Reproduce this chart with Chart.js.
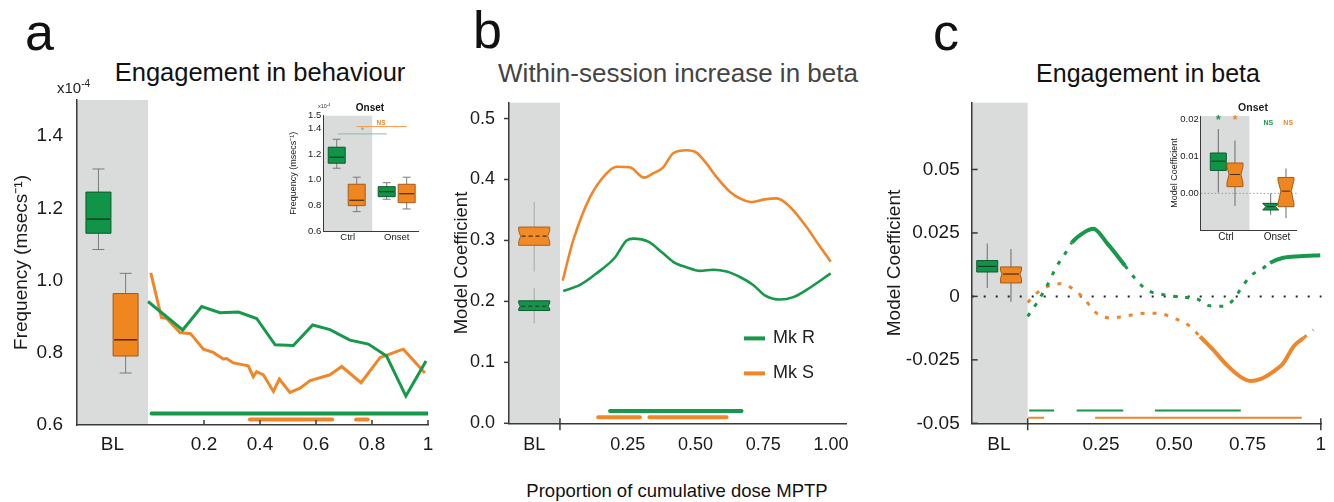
<!DOCTYPE html>
<html><head><meta charset="utf-8">
<script src="https://cdn.jsdelivr.net/npm/chart.js@4.4.1/dist/chart.umd.min.js"></script>
<style>
html,body{margin:0;padding:0;background:#fff;}
body{width:1334px;height:502px;position:relative;overflow:hidden;font-family:"Liberation Sans",Arial,Helvetica,sans-serif;color:#111;}
canvas{position:absolute;}
.t{position:absolute;white-space:nowrap;line-height:1;}
.ctr{transform:translateX(-50%);}
</style></head><body>
<canvas id="pa" width="440" height="375" style="left:0;top:90px"></canvas>
<canvas id="pb" width="420" height="375" style="left:440px;top:90px"></canvas>
<canvas id="pc" width="454" height="375" style="left:880px;top:90px"></canvas>
<canvas id="ia" width="145" height="150" style="left:280px;top:100px"></canvas>
<canvas id="ic" width="140" height="150" style="left:1160px;top:100px"></canvas>

<div class="t" style="left:25px;top:6px;font-size:52px">a</div>
<div class="t" style="left:473px;top:4px;font-size:52px">b</div>
<div class="t" style="left:933px;top:6px;font-size:52px">c</div>
<div class="t ctr" style="left:260px;top:60px;font-size:25.5px">Engagement in behaviour</div>
<div class="t ctr" style="left:678px;top:60px;font-size:26px;color:#444">Within-session increase in beta</div>
<div class="t ctr" style="left:1148px;top:61px;font-size:25px">Engagement in beta</div>
<div class="t" style="left:57px;top:80px;font-size:15px;color:#222">x10<span style="font-size:10px;position:relative;top:-6px">-4</span></div>
<div class="t" style="left:318px;top:104px;font-size:5.5px;color:#333">x10<span style="font-size:4px;position:relative;top:-2px">-4</span></div>
<div class="t ctr" style="left:370px;top:103px;font-size:10px;font-weight:bold">Onset</div>
<div class="t ctr" style="left:1253px;top:101.5px;font-size:10.5px;font-weight:bold;color:#222">Onset</div>
<div class="t ctr" style="left:677px;top:482px;font-size:18.5px">Proportion of cumulative dose MPTP</div>

<script>
// ===================== DATA =====================
// Panel a: engagement in behaviour (x10^-4 msecs^-1)
const aGreenX = [0, 0.124, 0.192, 0.257, 0.323, 0.388, 0.454, 0.519, 0.588, 0.65, 0.721, 0.787, 0.852, 0.921, 0.993];
const aGreenY = [0.942, 0.863, 0.928, 0.911, 0.913, 0.895, 0.822, 0.820, 0.877, 0.864, 0.835, 0.824, 0.791, 0.680, 0.777];
const aOrangeX = [0.010, 0.048, 0.067, 0.114, 0.152, 0.198, 0.233, 0.269, 0.281, 0.305, 0.358, 0.376, 0.388, 0.412, 0.448, 0.469, 0.507, 0.543, 0.579, 0.650, 0.692, 0.761, 0.829, 0.912, 0.989];
const aOrangeY = [1.021, 0.898, 0.895, 0.856, 0.853, 0.810, 0.801, 0.783, 0.784, 0.772, 0.764, 0.734, 0.748, 0.739, 0.693, 0.727, 0.690, 0.702, 0.723, 0.739, 0.762, 0.717, 0.787, 0.810, 0.744];
const aSigGreen = [[0.013, 1.0]];
const aSigGreenLevel = 0.632;
const aSigOrange = [[0.364, 0.658], [0.743, 0.785]];
const aSigOrangeLevel = 0.615;
// box stats: [low whisker, q1, median, q3, high whisker]
const aBLGreen = [1.086, 1.131, 1.170, 1.245, 1.309];
const aBLOrange = [0.744, 0.791, 0.836, 0.964, 1.020];
const aTickLabelsX = ['BL', '0.2', '0.4', '0.6', '0.8', '1'];
const aTickValsY = [0.6, 0.8, 1.0, 1.2, 1.4];
const aTickLabelsY = ['0.6', '0.8', '1.0', '1.2', '1.4'];

// Inset a
const iaCtrlGreen = [1.090, 1.129, 1.176, 1.254, 1.316];
const iaCtrlOrange = [0.751, 0.798, 0.840, 0.965, 1.020];
const iaOnsetGreen = [0.848, 0.868, 0.907, 0.946, 0.977];
const iaOnsetOrange = [0.772, 0.821, 0.891, 0.965, 1.020];
const iaCategories = ['Ctrl', 'Onset'];
const iaTickValsY = [0.6, 0.8, 1.0, 1.2, 1.4, 1.5];
const iaTickLabelsY = ['0.6', '0.8', '1.0', '1.2', '1.4', '1.5'];
const iaSigGreen = [-0.204, 0.796], iaSigGreenLevel = 1.358, iaSigGreenText = '*';
const iaSigOrange = [0.184, 1.204], iaSigOrangeLevel = 1.415, iaSigOrangeText = 'NS';

// Panel b: within-session increase in beta
const bOrangeX = [0.010, 0.049, 0.111, 0.172, 0.209, 0.258, 0.310, 0.344, 0.381, 0.418, 0.467, 0.504, 0.541, 0.578, 0.627, 0.664, 0.707, 0.750, 0.800, 0.849, 0.910, 0.947, 0.999];
const bOrangeY = [0.234, 0.300, 0.371, 0.410, 0.421, 0.420, 0.403, 0.410, 0.420, 0.443, 0.448, 0.444, 0.426, 0.404, 0.380, 0.369, 0.363, 0.367, 0.369, 0.355, 0.322, 0.298, 0.265];
const bGreenX = [0.012, 0.074, 0.135, 0.203, 0.246, 0.271, 0.326, 0.375, 0.418, 0.467, 0.517, 0.566, 0.615, 0.664, 0.713, 0.756, 0.812, 0.861, 0.910, 0.999];
const bGreenY = [0.217, 0.227, 0.246, 0.272, 0.300, 0.303, 0.298, 0.281, 0.265, 0.256, 0.250, 0.252, 0.249, 0.240, 0.227, 0.210, 0.203, 0.207, 0.219, 0.246];
const bSigGreen = [[0.185, 0.670]];
const bSigGreenLevel = 0.020;
const bSigOrange = [[0.141, 0.295], [0.330, 0.615]];
const bSigOrangeLevel = 0.010;
const bBLGreen = [0.164, 0.185, 0.192, 0.201, 0.222];
const bBLOrange = [0.249, 0.292, 0.307, 0.322, 0.363];
const bTickLabelsX = ['BL', '0.25', '0.50', '0.75', '1.00'];
const bTickValsY = [0, 0.1, 0.2, 0.3, 0.4, 0.5];
const bTickLabelsY = ['0.0', '0.1', '0.2', '0.3', '0.4', '0.5'];
const seriesNames = ['Mk R', 'Mk S'];

// Panel c: engagement in beta (1 = significant stretch, drawn solid)
const cGreenX = [0, 0.031, 0.065, 0.099, 0.133, 0.15, 0.19, 0.224, 0.27, 0.332, 0.36, 0.406, 0.463, 0.52, 0.577, 0.622, 0.668, 0.702, 0.725, 0.759, 0.804, 0.827, 0.872, 0.929, 0.998];
const cGreenY = [-0.0079, -0.0026, 0.0040, 0.0118, 0.0178, 0.0211, 0.0250, 0.0266, 0.0211, 0.0121, 0.0079, 0.0026, 0.0007, -0.0003, -0.0010, -0.0037, -0.0039, -0.0013, 0.0026, 0.0079, 0.0112, 0.0132, 0.0152, 0.0158, 0.0162];
const cGreenSig = [0,0,0,0,0,1,1,1,1,1,0,0,0,0,0,0,0,0,0,0,0,1,1,1,1];
const cOrangeX = [0, 0.031, 0.070, 0.110, 0.150, 0.190, 0.235, 0.281, 0.326, 0.383, 0.440, 0.497, 0.554, 0.588, 0.633, 0.679, 0.725, 0.759, 0.793, 0.838, 0.872, 0.907, 0.941, 0.975];
const cOrangeY = [-0.0024, 0.0013, 0.0040, 0.0050, 0.0033, -0.0006, -0.0066, -0.0085, -0.0079, -0.0068, -0.0066, -0.0085, -0.0118, -0.0158, -0.0211, -0.0270, -0.0316, -0.0333, -0.0326, -0.0296, -0.0263, -0.0197, -0.0164, -0.0132];
const cOrangeSig = [0,0,0,0,0,0,0,0,0,0,0,0,0,1,1,1,1,1,1,1,1,1,1,0];
const cSigGreen = [[0.005, 0.090], [0.167, 0.326], [0.434, 0.727]];
const cSigGreenLevel = -0.0450;
const cSigOrange = [[0.002, 0.056], [0.230, 0.935]];
const cSigOrangeLevel = -0.0478;
const cBLGreen = [0.0033, 0.0096, 0.0118, 0.0141, 0.0208];
const cBLOrange = [-0.0022, 0.0053, 0.0088, 0.0116, 0.0187];
const cTickLabelsX = ['BL', '0.25', '0.50', '0.75', '1'];
const cTickValsY = [-0.05, -0.025, 0, 0.025, 0.05];
const cTickLabelsY = ['-0.05', '-0.025', '0', '0.025', '0.05'];

// Inset c
const icCtrlGreen = [0.0002, 0.0062, 0.0087, 0.0109, 0.0174];
const icCtrlOrange = [-0.0034, 0.0018, 0.0051, 0.0082, 0.0143];
const icOnsetGreen = [-0.0058, -0.0045, -0.0036, -0.0027, 0.0000];
const icOnsetOrange = [-0.0067, -0.0036, 0.0006, 0.0043, 0.0067];
const icCategories = ['Ctrl', 'Onset'];
const icTickValsY = [0, 0.01, 0.02];
const icTickLabelsY = ['0.00', '0.01', '0.02'];
const icSigText = ['*', '*', 'NS', 'NS'];

// ===================== STYLE / HELPERS =====================
const GREEN = '#17984a', ORANGE = '#f0862a', SHADE = '#dadbdb', AXIS = '#3a3a3a', TXT = '#1a1a1a';
const GBOX = {fill: '#109548', stroke: '#0b5a2e', med: '#173a24'};
const OBOX = {fill: '#f0861f', stroke: '#a25c1c', med: '#4a2c10'};
Chart.defaults.font.family = '"Liberation Sans", Arial, Helvetica, sans-serif';
Chart.defaults.color = TXT;

const pts = (xs, ys) => xs.map((x, i) => ({x, y: ys[i]}));
function sigData(segs, level) {
  const d = [];
  segs.forEach((s, i) => {
    if (i) d.push({x: (segs[i - 1][1] + s[0]) / 2, y: null});
    d.push({x: s[0], y: level}, {x: s[1], y: level});
  });
  return d;
}
function line(ctx, x1, y1, x2, y2) { ctx.beginPath(); ctx.moveTo(x1, y1); ctx.lineTo(x2, y2); ctx.stroke(); }
function drawBox(ctx, xs, ys, b) {
  const [lo, q1, med, q3, hi] = b.s;
  const cx = xs.getPixelForValue(b.at), hw = b.w / 2;
  const pLo = ys.getPixelForValue(lo), pQ1 = ys.getPixelForValue(q1), pM = ys.getPixelForValue(med),
        pQ3 = ys.getPixelForValue(q3), pHi = ys.getPixelForValue(hi);
  ctx.save();
  ctx.strokeStyle = b.wh; ctx.lineWidth = b.wlw || 1;
  line(ctx, cx, pHi, cx, pLo);
  if (b.cap) { line(ctx, cx - b.cap / 2, pHi, cx + b.cap / 2, pHi); line(ctx, cx - b.cap / 2, pLo, cx + b.cap / 2, pLo); }
  const d = (b.notch || 0) * hw, nf = b.nf || 0;
  const nT = pM - (pM - pQ3) * nf, nB = pM + (pQ1 - pM) * nf;
  ctx.beginPath();
  ctx.moveTo(cx - hw, pQ3); ctx.lineTo(cx + hw, pQ3);
  ctx.lineTo(cx + hw, nT); ctx.lineTo(cx + hw - d, pM); ctx.lineTo(cx + hw, nB);
  ctx.lineTo(cx + hw, pQ1); ctx.lineTo(cx - hw, pQ1);
  ctx.lineTo(cx - hw, nB); ctx.lineTo(cx - hw + d, pM); ctx.lineTo(cx - hw, nT);
  ctx.closePath();
  ctx.fillStyle = b.fill; ctx.fill();
  ctx.strokeStyle = b.stroke; ctx.lineWidth = b.slw || 1; ctx.stroke();
  ctx.strokeStyle = b.med; ctx.lineWidth = b.mlw || 1.5;
  if (b.dash) ctx.setLineDash(b.dash);
  line(ctx, cx - hw + d + 1, pM, cx + hw - d - 1, pM);
  ctx.restore();
}
const decor = {
  id: 'decor',
  beforeDraw(chart, _a, o) {
    if (o.shadeTo === undefined) return;
    const {ctx, chartArea: ca, scales: {x}} = chart;
    ctx.save(); ctx.fillStyle = o.shade || SHADE;
    ctx.fillRect(ca.left, ca.top, x.getPixelForValue(o.shadeTo) - ca.left, ca.bottom - ca.top);
    ctx.restore();
  },
  afterDraw(chart, _a, o) {
    const {ctx, chartArea: ca, scales: {x, y}} = chart;
    ctx.save();
    (o.boxes || []).forEach(b => drawBox(ctx, x, y, b));
    ctx.strokeStyle = AXIS; ctx.lineWidth = o.tickW || 1.5;
    (o.xTicksIn || []).forEach(v => { const px = x.getPixelForValue(v); line(ctx, px, ca.bottom, px, ca.bottom - 5); });
    (o.xSep || []).forEach(v => { const px = x.getPixelForValue(v); line(ctx, px, ca.bottom - 5, px, ca.bottom + 7); });
    if (o.yTicks) y.ticks.forEach(t => { const py = y.getPixelForValue(t.value); line(ctx, ca.left, py, ca.left + o.yTicks, py); });
    (o.texts || []).forEach(t => {
      ctx.fillStyle = t.color; ctx.font = t.font; ctx.textAlign = 'center'; ctx.textBaseline = 'middle';
      ctx.fillText(t.text, x.getPixelForValue(t.x), y.getPixelForValue(t.y));
    });
    if (o.legend) {
      const L = o.legend;
      chart.data.datasets.filter(d => L.labels.includes(d.label)).forEach((d, i) => {
        const px = x.getPixelForValue(L.x), py = y.getPixelForValue(L.y) + i * L.gap;
        ctx.strokeStyle = d.borderColor; ctx.lineWidth = 4; line(ctx, px, py, px + L.len, py);
        ctx.fillStyle = '#222'; ctx.font = L.font; ctx.textAlign = 'left'; ctx.textBaseline = 'middle';
        ctx.fillText(d.label, px + L.len + 8, py);
      });
    }
    ctx.restore();
  }
};
function xAxis(min, max, vals, labels, height, size, pad, bw) {
  return {type: 'linear', min, max, position: 'bottom',
    afterFit: s => { s.height = height; s.paddingLeft = 0; s.paddingRight = 0; },
    afterBuildTicks: s => { s.ticks = vals.map(v => ({value: v})); },
    ticks: {autoSkip: false, maxRotation: 0, minRotation: 0, padding: pad, font: {size}, color: TXT, callback: (v, i) => labels[i]},
    grid: {display: false, drawTicks: false}, border: {display: true, color: AXIS, width: bw || 1.5}};
}
function yAxis(min, max, vals, labels, width, size, pad, title, tsize, tpad, bw) {
  return {type: 'linear', min, max, position: 'left',
    afterFit: s => { s.width = width; s.paddingTop = 0; s.paddingBottom = 0; },
    afterBuildTicks: s => { s.ticks = vals.map(v => ({value: v})); },
    ticks: {autoSkip: false, padding: pad, font: {size}, color: TXT, callback: (v, i) => labels[i]},
    grid: {display: false, drawTicks: false}, border: {display: true, color: AXIS, width: bw || 1.5},
    title: {display: true, text: title, font: {size: tsize}, color: TXT, padding: {top: tpad, bottom: 0}}};
}
const base = {responsive: false, animation: false, devicePixelRatio: 1, events: []};
const noPlug = {legend: {display: false}, tooltip: {enabled: false}};
const ln = (label, data, color, w, extra) => Object.assign({label, data, borderColor: color, backgroundColor: color, borderWidth: w, pointRadius: 0, fill: false, spanGaps: false}, extra || {});

// ===================== PANEL A =====================
new Chart(document.getElementById('pa'), {
  type: 'line',
  data: {datasets: [
    ln(seriesNames[0], pts(aGreenX, aGreenY), GREEN, 3, {tension: 0, order: 1}),
    ln(seriesNames[1], pts(aOrangeX, aOrangeY), ORANGE, 3, {tension: 0, order: 2}),
    ln('sig R', sigData(aSigGreen, aSigGreenLevel), GREEN, 4, {borderCapStyle: 'round'}),
    ln('sig S', sigData(aSigOrange, aSigOrangeLevel), ORANGE, 4, {borderCapStyle: 'round'})
  ]},
  options: Object.assign({}, base, {
    layout: {padding: {top: 10, right: 12, bottom: 0, left: 0}},
    plugins: Object.assign({}, noPlug, {decor: {
      shadeTo: 0,
      boxes: [
        Object.assign({at: -0.177, s: aBLGreen, w: 25, wh: '#7a7a7a', cap: 12}, GBOX),
        Object.assign({at: -0.080, s: aBLOrange, w: 25, wh: '#7a7a7a', cap: 12}, OBOX)
      ],
      xTicksIn: [0.2, 0.4, 0.6, 0.8, 1]
    }}),
    scales: {
      x: xAxis(-0.2536, 1.0, [-0.127, 0.2, 0.4, 0.6, 0.8, 1], aTickLabelsX, 40, 19, 8.5),
      y: yAxis(0.6, 1.5, aTickValsY, aTickLabelsY, 77, 19, 14, 'Frequency (msecs\u207B\u00B9)', 19, 10.5)
    }
  }),
  plugins: [decor]
});

// ===================== INSET A =====================
new Chart(document.getElementById('ia'), {
  type: 'line',
  data: {datasets: [
    ln('sig Ctrl vs Onset R', [{x: iaSigGreen[0], y: iaSigGreenLevel}, {x: iaSigGreen[1], y: iaSigGreenLevel}], '#7cc69e', 1),
    ln('sig Ctrl vs Onset S', [{x: iaSigOrange[0], y: iaSigOrangeLevel}, {x: iaSigOrange[1], y: iaSigOrangeLevel}], '#f29a4c', 1)
  ]},
  options: Object.assign({}, base, {
    layout: {padding: {top: 15.7, right: 7, bottom: 0, left: 0}},
    plugins: Object.assign({}, noPlug, {decor: {
      shadeTo: 0.5,
      boxes: [
        Object.assign({at: -0.224, s: iaCtrlGreen, w: 17, wh: '#7a7a7a', cap: 8, mlw: 1.2}, GBOX),
        Object.assign({at: 0.184, s: iaCtrlOrange, w: 17, wh: '#7a7a7a', cap: 8, mlw: 1.2}, OBOX),
        Object.assign({at: 0.796, s: iaOnsetGreen, w: 17, wh: '#7a7a7a', cap: 8, mlw: 1.2}, GBOX),
        Object.assign({at: 1.204, s: iaOnsetOrange, w: 17, wh: '#7a7a7a', cap: 8, mlw: 1.2}, OBOX)
      ],
      texts: [
        {text: iaSigGreenText, x: 0.30, y: 1.381, color: '#5fb985', font: '9px "Liberation Sans", Arial'},
        {text: iaSigOrangeText, x: 0.68, y: 1.441, color: ORANGE, font: 'bold 6.5px "Liberation Sans", Arial'}
      ]
    }}),
    scales: {
      x: xAxis(-0.498, 1.435, [0, 1], iaCategories, 19, 9.5, 1, 1),
      y: yAxis(0.6, 1.5, iaTickValsY, iaTickLabelsY, 43.3, 9.5, 2, 'Frequency (msecs\u207B\u00B9)', 9, 8, 1)
    }
  }),
  plugins: [decor]
});

// ===================== PANEL B =====================
new Chart(document.getElementById('pb'), {
  type: 'line',
  data: {datasets: [
    ln(seriesNames[0], pts(bGreenX, bGreenY), GREEN, 2.6, {tension: 0.4, cubicInterpolationMode: 'monotone'}),
    ln(seriesNames[1], pts(bOrangeX, bOrangeY), ORANGE, 2.6, {tension: 0.4, cubicInterpolationMode: 'monotone'}),
    ln('sig R', sigData(bSigGreen, bSigGreenLevel), GREEN, 4, {borderCapStyle: 'round'}),
    ln('sig S', sigData(bSigOrange, bSigOrangeLevel), ORANGE, 4, {borderCapStyle: 'round'})
  ]},
  options: Object.assign({}, base, {
    layout: {padding: {top: 12.7, right: 13.3, bottom: 0, left: 0}},
    plugins: Object.assign({}, noPlug, {decor: {
      shadeTo: 0,
      boxes: [
        {at: -0.095, s: bBLOrange, w: 31, wh: '#a8a8a8', fill: '#f28a25', stroke: '#a8621f', med: '#4a2f15', dash: [4, 3], notch: 0.12, nf: 0.6, mlw: 1.2},
        {at: -0.095, s: bBLGreen, w: 31, wh: '#a8a8a8', fill: '#16934a', stroke: '#0c5e30', med: '#1d3b28', dash: [4, 3], notch: 0.1, nf: 0.6, mlw: 1.2}
      ],
      xSep: [0],
      yTicks: -5,
      legend: {labels: seriesNames, x: 0.679, y: 0.1393, gap: 35, len: 21, font: '18px "Liberation Sans", Arial'}
    }}),
    scales: {
      x: xAxis(-0.188, 1.058, [-0.095, 0.25, 0.5, 0.75, 1.0], bTickLabelsX, 41.7, 18, 11),
      y: yAxis(0, 0.526, bTickValsY, bTickLabelsY, 69, 18, 14, 'Model Coefficient', 18.5, 11)
    }
  }),
  plugins: [decor]
});

// ===================== PANEL C =====================
const segStyle = sig => ({
  borderDash: c => (sig[c.p0DataIndex] && sig[c.p1DataIndex]) ? [] : [4, 8],
  borderWidth: c => (sig[c.p0DataIndex] && sig[c.p1DataIndex]) ? 4 : 3
});
new Chart(document.getElementById('pc'), {
  type: 'line',
  data: {datasets: [
    ln('zero', [{x: -0.191, y: 0}, {x: 1.003, y: 0}], '#222', 2, {borderDash: [2, 10], order: 5}),
    ln(seriesNames[0], pts(cGreenX, cGreenY), GREEN, 4, {tension: 0.4, cubicInterpolationMode: 'monotone', segment: segStyle(cGreenSig), order: 1}),
    ln(seriesNames[1], pts(cOrangeX, cOrangeY), ORANGE, 4, {tension: 0.4, cubicInterpolationMode: 'monotone', segment: segStyle(cOrangeSig), order: 2}),
    ln('sig R', sigData(cSigGreen, cSigGreenLevel), GREEN, 2),
    ln('sig S', sigData(cSigOrange, cSigOrangeLevel), ORANGE, 2)
  ]},
  options: Object.assign({}, base, {
    layout: {padding: {top: 12.7, right: 12.3, bottom: 0, left: 0}},
    plugins: Object.assign({}, noPlug, {decor: {
      shadeTo: 0,
      boxes: [
        Object.assign({at: -0.138, s: cBLGreen, w: 21, wh: '#6a6a6a', mlw: 1.2}, GBOX),
        Object.assign({at: -0.057, s: cBLOrange, w: 21, wh: '#6a6a6a', notch: 0.15, nf: 0.5, mlw: 1.2}, OBOX)
      ],
      xSep: [0, 1],
      yTicks: 6
    }}),
    scales: {
      x: xAxis(-0.191, 1.003, [-0.098, 0.25, 0.5, 0.75, 1.0], cTickLabelsX, 41.7, 19, 10),
      y: yAxis(-0.05, 0.0763, cTickValsY, cTickLabelsY, 91.7, 19, 12, 'Model Coefficient', 19, 3.6)
    }
  }),
  plugins: [decor]
});

// ===================== INSET C =====================
new Chart(document.getElementById('ic'), {
  type: 'line',
  data: {datasets: [
    ln('zero', [{x: -0.496, y: 0}, {x: 1.386, y: 0}], '#9a9a9a', 1, {borderDash: [1.5, 2]})
  ]},
  options: Object.assign({}, base, {
    layout: {padding: {top: 16, right: 3.3, bottom: 0, left: 0}},
    plugins: Object.assign({}, noPlug, {decor: {
      shadeTo: 0.46,
      boxes: [
        Object.assign({at: -0.151, s: icCtrlGreen, w: 16, wh: '#6a6a6a', mlw: 1}, GBOX),
        Object.assign({at: 0.176, s: icCtrlOrange, w: 16, wh: '#6a6a6a', notch: 0.25, nf: 0.7, mlw: 1}, OBOX),
        Object.assign({at: 0.876, s: icOnsetGreen, w: 16, wh: '#6a6a6a', notch: 0.4, nf: 1, mlw: 1}, GBOX),
        Object.assign({at: 1.176, s: icOnsetOrange, w: 16, wh: '#6a6a6a', notch: 0.35, nf: 0.8, mlw: 1}, OBOX)
      ],
      texts: [
        {text: icSigText[0], x: -0.151, y: 0.0196, color: GREEN, font: 'bold 12px "Liberation Sans", Arial'},
        {text: icSigText[1], x: 0.176, y: 0.0195, color: ORANGE, font: 'bold 12px "Liberation Sans", Arial'},
        {text: icSigText[2], x: 0.83, y: 0.0189, color: GREEN, font: 'bold 7px "Liberation Sans", Arial'},
        {text: icSigText[3], x: 1.22, y: 0.0189, color: ORANGE, font: 'bold 7px "Liberation Sans", Arial'}
      ]
    }}),
    scales: {
      x: xAxis(-0.496, 1.386, [0, 1], icCategories, 20, 10, 1, 1),
      y: yAxis(-0.0099, 0.0209, icTickValsY, icTickLabelsY, 40.7, 9.5, 2, 'Model Coefficient', 9, 9.6, 1)
    }
  }),
  plugins: [decor]
});
</script>
</body></html>
